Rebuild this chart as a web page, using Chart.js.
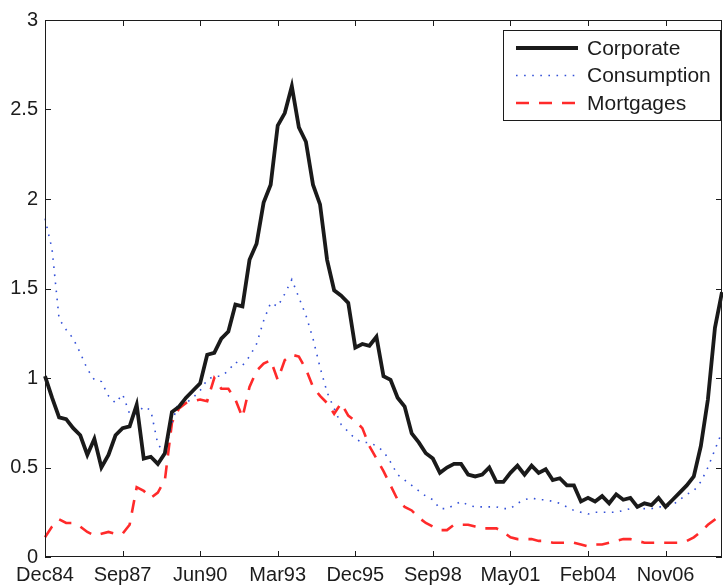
<!DOCTYPE html>
<html>
<head>
<meta charset="utf-8">
<script src="https://cdn.jsdelivr.net/npm/chart.js@4/dist/chart.umd.min.js"></script>
<style>
  html, body { margin: 0; padding: 0; background: #fff; }
  #wrap { width: 723px; height: 587px; }
</style>
</head>
<body>
<div id="wrap"><canvas id="spreads" width="723" height="587"></canvas></div>
<script>
// quarterly observations, Dec84 .. Dec08
const corporate = [
  1.01, 0.89, 0.78, 0.77, 0.72, 0.68, 0.57, 0.66, 0.50, 0.57, 0.68, 0.72, 0.73, 0.85, 0.55, 0.56,
  0.52, 0.58, 0.81, 0.84, 0.89, 0.93, 0.97, 1.13, 1.14, 1.22, 1.26, 1.41, 1.40, 1.66, 1.75, 1.98,
  2.08, 2.41, 2.48, 2.63, 2.40, 2.32, 2.08, 1.97, 1.66, 1.49, 1.46, 1.42, 1.17, 1.19, 1.18, 1.23,
  1.01, 0.99, 0.89, 0.84, 0.69, 0.64, 0.58, 0.55, 0.47, 0.50, 0.52, 0.52, 0.46, 0.45, 0.46, 0.50,
  0.42, 0.42, 0.47, 0.51, 0.46, 0.51, 0.47, 0.49, 0.43, 0.44, 0.40, 0.40, 0.31, 0.33, 0.31, 0.34,
  0.30, 0.35, 0.32, 0.33, 0.28, 0.30, 0.29, 0.33, 0.28, 0.32, 0.36, 0.40, 0.45, 0.62, 0.88, 1.28,
  1.48
];
const consumption = [
  1.89, 1.72, 1.33, 1.27, 1.22, 1.14, 1.05, 0.99, 0.98, 0.90, 0.86, 0.91, 0.80, 0.80, 0.84, 0.82,
  0.63, 0.58, 0.75, 0.87, 0.86, 0.89, 0.93, 0.99, 1.01, 1.01, 1.04, 1.09, 1.07, 1.12, 1.19, 1.32,
  1.42, 1.40, 1.47, 1.55, 1.45, 1.35, 1.22, 1.06, 0.92, 0.83, 0.74, 0.70, 0.66, 0.64, 0.64, 0.62,
  0.59, 0.53, 0.46, 0.43, 0.40, 0.37, 0.34, 0.32, 0.27, 0.27, 0.29, 0.31, 0.29, 0.28, 0.28, 0.28,
  0.28, 0.27, 0.27, 0.30, 0.32, 0.33, 0.32, 0.32, 0.31, 0.30, 0.28, 0.26, 0.25, 0.24, 0.25, 0.25,
  0.25, 0.25, 0.26, 0.27, 0.28, 0.27, 0.27, 0.28, 0.28, 0.29, 0.32, 0.35, 0.37, 0.42, 0.50, 0.60,
  0.70
];
const mortgages = [
  0.11, 0.17, 0.21, 0.19, 0.19, 0.17, 0.14, 0.12, 0.13, 0.14, 0.13, 0.13, 0.18, 0.39, 0.37, 0.33,
  0.36, 0.43, 0.75, 0.83, 0.86, 0.87, 0.88, 0.87, 1.00, 0.94, 0.94, 0.88, 0.78, 0.95, 1.04, 1.08,
  1.10, 0.99, 1.10, 1.13, 1.12, 1.05, 0.95, 0.90, 0.86, 0.80, 0.86, 0.79, 0.76, 0.72, 0.62, 0.55,
  0.48, 0.40, 0.32, 0.28, 0.26, 0.22, 0.19, 0.17, 0.15, 0.15, 0.18, 0.18, 0.18, 0.17, 0.16, 0.16,
  0.16, 0.14, 0.11, 0.10, 0.10, 0.10, 0.09, 0.09, 0.08, 0.08, 0.08, 0.08, 0.07, 0.06, 0.07, 0.07,
  0.08, 0.09, 0.10, 0.10, 0.09, 0.08, 0.08, 0.08, 0.08, 0.08, 0.08, 0.09, 0.11, 0.14, 0.18, 0.21,
  0.25
];
const xTickLabels = ['Dec84', 'Sep87', 'Jun90', 'Mar93', 'Dec95', 'Sep98', 'May01', 'Feb04', 'Nov06'];
const xTickIndex = [0, 11, 22, 33, 44, 55, 66, 77, 88];
const seriesNames = ['Corporate', 'Consumption', 'Mortgages'];

(function () {
  const months = ['Mar', 'Jun', 'Sep', 'Dec'];
  const quarters = corporate.map((_, i) => {
    const q = (3 + i) % 4;
    const yr = 84 + Math.floor((3 + i) / 4);
    return months[q] + String(yr % 100).padStart(2, '0');
  });

  const FONT = '"Liberation Sans", Arial, sans-serif';
  const INK = '#1c1c1c';

  // matlab style box with ticks pointing inwards
  const boxTicks = {
    id: 'boxTicks',
    afterDraw(chart) {
      const { ctx, chartArea: a, scales } = chart;
      ctx.save();
      ctx.strokeStyle = INK;
      ctx.lineWidth = 1;
      ctx.setLineDash([]);
      ctx.strokeRect(a.left + 0.5, a.top + 0.5, a.right - a.left - 1, a.bottom - a.top - 1);
      ctx.beginPath();
      scales.x.ticks.forEach(t => {
        const x = Math.round(scales.x.getPixelForValue(t.value)) + 0.5;
        ctx.moveTo(x, a.bottom); ctx.lineTo(x, a.bottom - 6);
        ctx.moveTo(x, a.top); ctx.lineTo(x, a.top + 6);
      });
      scales.y.ticks.forEach(t => {
        const y = Math.round(scales.y.getPixelForValue(t.value)) + 0.5;
        ctx.moveTo(a.left, y); ctx.lineTo(a.left + 6, y);
        ctx.moveTo(a.right, y); ctx.lineTo(a.right - 6, y);
      });
      ctx.stroke();

      // legend box
      const bx = 503, by = 30, bw = 217, bh = 90;
      ctx.fillStyle = '#fff';
      ctx.fillRect(bx, by, bw, bh);
      ctx.strokeRect(bx + 0.5, by + 0.5, bw, bh);
      ctx.font = '21px ' + FONT;
      ctx.textBaseline = 'middle';
      chart.data.datasets.forEach((ds, i) => {
        const y = 48 + i * 27.5;
        ctx.strokeStyle = ds.borderColor;
        ctx.lineWidth = ds.borderWidth;
        ctx.setLineDash(ds.borderDash || []);
        ctx.lineCap = 'butt';
        ctx.beginPath();
        ctx.moveTo(516, y); ctx.lineTo(578, y);
        ctx.stroke();
        ctx.fillStyle = INK;
        ctx.fillText(ds.label, 587, y + 1);
      });
      ctx.restore();
    }
  };

  new Chart(document.getElementById('spreads'), {
    type: 'line',
    data: {
      labels: quarters,
      datasets: [
        { label: seriesNames[0], data: corporate, borderColor: '#1a1a1a', borderWidth: 3.8 },
        { label: seriesNames[1], data: consumption, borderColor: '#3350d8', borderWidth: 1.6, borderDash: [1.6, 6.5] },
        { label: seriesNames[2], data: mortgages, borderColor: '#ff2a2a', borderWidth: 2.6, borderDash: [13, 10] }
      ]
    },
    options: {
      responsive: false,
      animation: false,
      layout: { padding: { top: 20, right: 1, left: 0, bottom: 0 } },
      elements: { point: { radius: 0 }, line: { tension: 0 } },
      plugins: { legend: { display: false }, tooltip: { enabled: false } },
      scales: {
        x: {
          type: 'category',
          offset: false,
          grid: { display: false, drawTicks: false },
          border: { display: false },
          afterBuildTicks: s => { s.ticks = xTickIndex.map(v => ({ value: v })); },
          afterFit: s => { s.height = 30; },
          ticks: {
            autoSkip: false,
            maxRotation: 0,
            padding: 6,
            color: INK,
            font: { family: FONT, size: 20 },
            callback: v => xTickLabels[xTickIndex.indexOf(v)]
          }
        },
        y: {
          min: 0,
          max: 3,
          grid: { display: false, drawTicks: false },
          border: { display: false },
          afterFit: s => { s.width = 45; },
          ticks: {
            stepSize: 0.5,
            padding: 7,
            color: INK,
            font: { family: FONT, size: 20 },
            callback: v => String(v)
          }
        }
      }
    },
    plugins: [boxTicks]
  });
}());
</script>
</body>
</html>
